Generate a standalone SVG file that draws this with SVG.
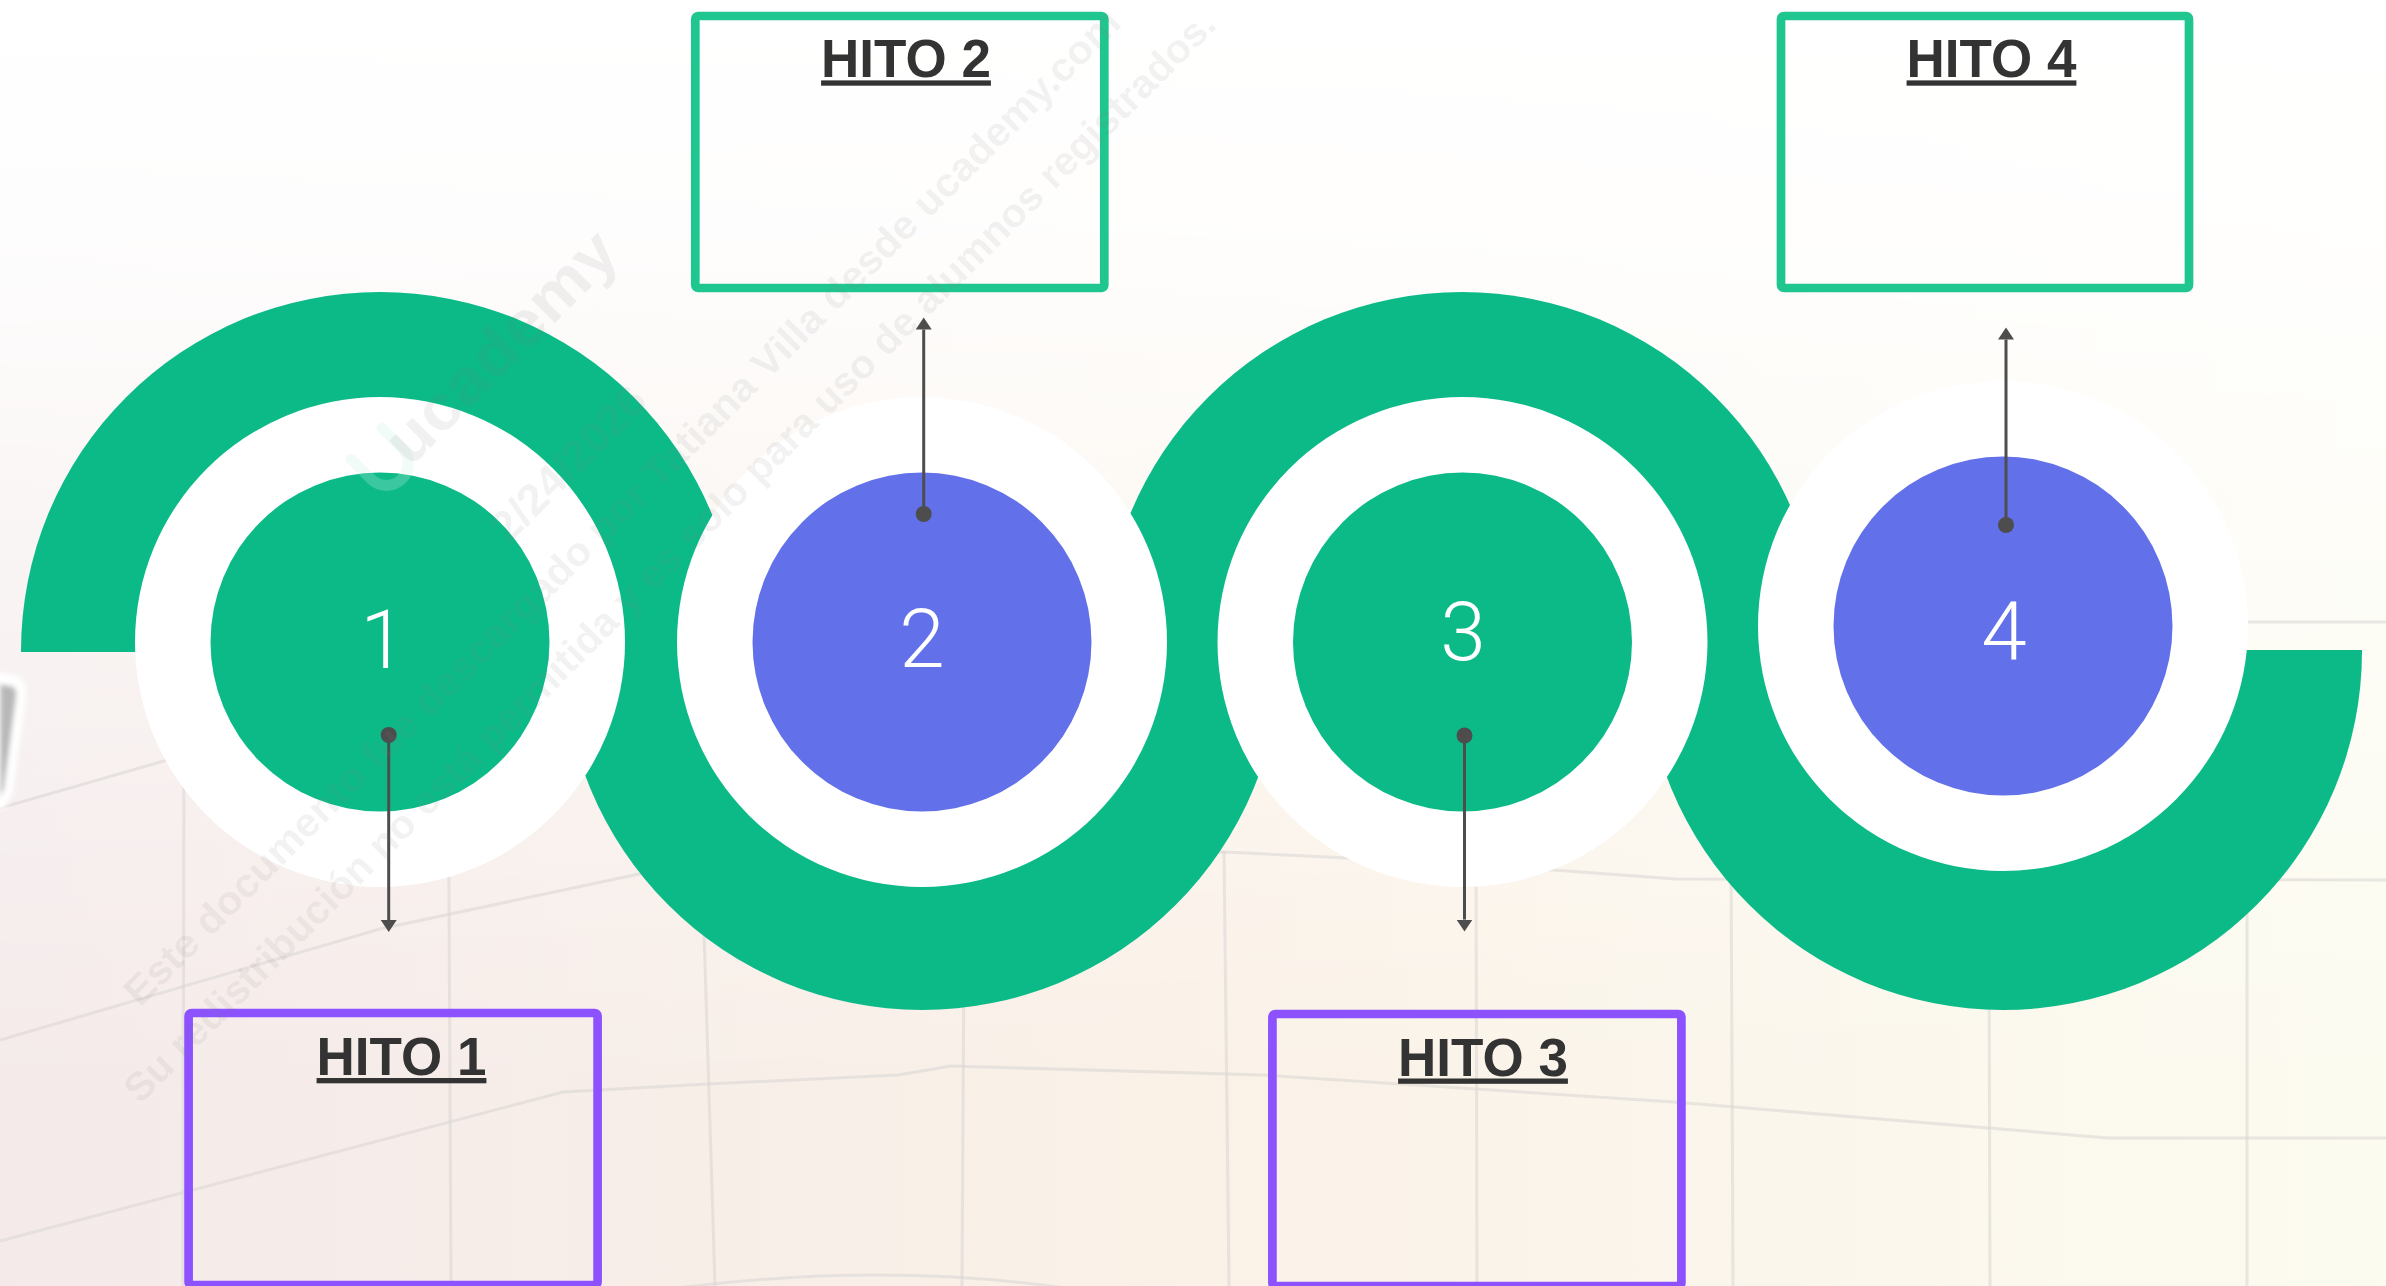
<svg xmlns="http://www.w3.org/2000/svg" width="2386" height="1286" viewBox="0 0 2386 1286">
<defs>
<linearGradient id="bgH" x1="0" y1="0" x2="1" y2="0">
<stop offset="0" stop-color="#f4eaea"/>
<stop offset="0.5" stop-color="#faf1e7"/>
<stop offset="1" stop-color="#fcfbf0"/>
</linearGradient>
<linearGradient id="bgV" x1="0" y1="0" x2="0" y2="1">
<stop offset="0" stop-color="#000"/>
<stop offset="0.18" stop-color="#1a1a1a"/>
<stop offset="0.5" stop-color="#999"/>
<stop offset="0.85" stop-color="#fff"/>
</linearGradient>
<mask id="bgMask"><rect width="2386" height="1286" fill="url(#bgV)"/></mask>
<filter id="blur" x="-50%" y="-50%" width="200%" height="200%"><feGaussianBlur stdDeviation="2.5"/></filter>
<marker id="arrow" markerUnits="userSpaceOnUse" markerWidth="14" markerHeight="18" refX="0" refY="8" orient="auto" viewBox="0 0 14 16">
<path d="M0,0 L12,8 L0,16 Z" fill="#4d4d4d"/>
</marker>
<marker id="dot" markerUnits="userSpaceOnUse" markerWidth="18" markerHeight="18" refX="9" refY="9" viewBox="0 0 18 18">
<circle cx="9" cy="9" r="8" fill="#4d4d4d"/>
</marker>
<style>
.map{fill:none;stroke:#d9d6d3;stroke-opacity:.55;stroke-width:3}
.track{fill:#0cba88}
.ring{fill:#ffffff}
.g{fill:#0cba88}
.b{fill:#6270ea}
.num{font-family:Roboto,"Liberation Sans",sans-serif;font-weight:300;font-size:82px;fill:#ffffff;text-anchor:middle}
.boxG{fill:none;stroke:#20c68f;stroke-width:8.7}
.boxP{fill:none;stroke:#8c52ff;stroke-width:8.7}
.lbl{font-family:"Liberation Sans",Arial,sans-serif;font-weight:700;font-size:53px;fill:#333333;text-anchor:middle;text-decoration:underline}
.conn{stroke:#4d4d4d;stroke-width:3;fill:none}
.wm{font-family:"Liberation Sans",Arial,sans-serif;font-weight:700;fill:#7a7a7a;fill-opacity:.1}
</style>
</defs>
<g id="background">
<rect width="2386" height="1286" fill="#ffffff"/>
<rect width="2386" height="1286" fill="url(#bgH)" mask="url(#bgMask)"/>
<polyline class="map" points="0,808 300,722"/>
<polyline class="map" points="0,1040 380,929 639,874 1224,852 1347,858 1553,870 1676,879 2386,880"/>
<polyline class="map" points="0,1241 563,1092 708,1084 898,1075 951,1066 1263,1075 1674,1102 2108,1138 2386,1138"/>
<path class="map" d="M677,1288 Q883,1262 1065,1288"/>
<polyline class="map" points="1700,622 2386,622"/>
<line class="map" x1="184" y1="700" x2="183" y2="1286"/>
<line class="map" x1="448" y1="700" x2="451" y2="1286"/>
<line class="map" x1="703" y1="900" x2="715" y2="1286"/>
<line class="map" x1="964" y1="950" x2="962" y2="1286"/>
<line class="map" x1="1224" y1="851" x2="1229" y2="1286"/>
<line class="map" x1="1476" y1="850" x2="1477" y2="1286"/>
<line class="map" x1="1731" y1="850" x2="1733" y2="1286"/>
<line class="map" x1="1989" y1="950" x2="1990" y2="1286"/>
<line class="map" x1="2247" y1="880" x2="2247" y2="1286"/>
<g filter="url(#blur)">
<path d="M0,680 L16,683 Q20,688 19,696 L6,790 L0,802 Z" fill="#ffffff" stroke="#ffffff" stroke-width="14" stroke-linejoin="round"/>
<path d="M0,684 L14,687 Q17,691 16,697 L4,788 L0,798 Z" fill="#b8b8b8"/>
</g>
</g>
<g id="track">
<path class="track" d="M21,652 V651 A359,359 0 0 1 739,651 V652 Z"/>
<path class="track" d="M563,650 V651 A359,359 0 0 0 1281,651 V650 Z"/>
<path class="track" d="M1103,652 V651 A359,359 0 0 1 1821,651 V652 Z"/>
<path class="track" d="M1644,650 V651 A359,359 0 0 0 2362,651 V650 Z"/>
</g>
<g id="node-1">
<circle class="ring" cx="380" cy="642" r="245"/>
<circle class="g" cx="380" cy="642" r="169.5"/>
<text class="num" x="383" y="668">1</text>
</g>
<g id="node-2">
<circle class="ring" cx="922" cy="642" r="245"/>
<circle class="b" cx="922" cy="642" r="169.5"/>
<text class="num" x="922" y="667">2</text>
</g>
<g id="node-3">
<circle class="ring" cx="1462.5" cy="642" r="245"/>
<circle class="g" cx="1462.5" cy="642" r="169.5"/>
<text class="num" x="1463" y="660">3</text>
</g>
<g id="node-4">
<circle class="ring" cx="2003" cy="626" r="245"/>
<circle class="b" cx="2003" cy="626" r="169.5"/>
<text class="num" x="2004" y="660">4</text>
</g>
<g id="hito-2">
<rect class="boxG" x="695.3" y="16" width="409" height="272" rx="3"/>
<text class="lbl" x="906" y="77.4">HITO 2</text>
</g>
<g id="hito-4">
<rect class="boxG" x="1781" y="16" width="408" height="272" rx="3"/>
<text class="lbl" x="1991.5" y="77.4">HITO 4</text>
</g>
<g id="hito-1">
<rect class="boxP" x="188.6" y="1013" width="409" height="272" rx="3"/>
<text class="lbl" x="401.5" y="1075">HITO 1</text>
</g>
<g id="hito-3">
<rect class="boxP" x="1272.4" y="1014" width="409" height="272" rx="3"/>
<text class="lbl" x="1483" y="1075.5">HITO 3</text>
</g>
<g id="connectors">
<line class="conn" x1="388.7" y1="735" x2="388.7" y2="920" marker-start="url(#dot)" marker-end="url(#arrow)"/>
<line class="conn" x1="923.7" y1="514" x2="923.7" y2="329.5" marker-start="url(#dot)" marker-end="url(#arrow)"/>
<line class="conn" x1="1464.5" y1="735.5" x2="1464.5" y2="919.6" marker-start="url(#dot)" marker-end="url(#arrow)"/>
<line class="conn" x1="2006" y1="525" x2="2006" y2="339.5" marker-start="url(#dot)" marker-end="url(#arrow)"/>
</g>
<g id="watermark">
<path d="M-22,-26 V2 A22,22 0 0 0 22,2 V-26" transform="translate(385,462) rotate(-45)" fill="none" stroke="#c9f1e2" stroke-opacity=".25" stroke-width="11" stroke-linecap="round"/>
<text class="wm" font-size="64" transform="translate(410,468) rotate(-45)" textLength="300" lengthAdjust="spacingAndGlyphs">ucademy</text>
<text class="wm" font-size="44" transform="translate(508,545) rotate(-45)" textLength="200" lengthAdjust="spacingAndGlyphs">2/24/2026</text>
<text class="wm" font-size="40" transform="translate(140,1008) rotate(-45)" textLength="1390" lengthAdjust="spacingAndGlyphs">Este documento fue descargado por Tatiana Villa desde ucademy.com</text>
<text class="wm" font-size="40" transform="translate(140,1105) rotate(-45)" textLength="1525" lengthAdjust="spacingAndGlyphs">Su redistribución no está permitida y es solo para uso de alumnos registrados.</text>
</g>
</svg>
